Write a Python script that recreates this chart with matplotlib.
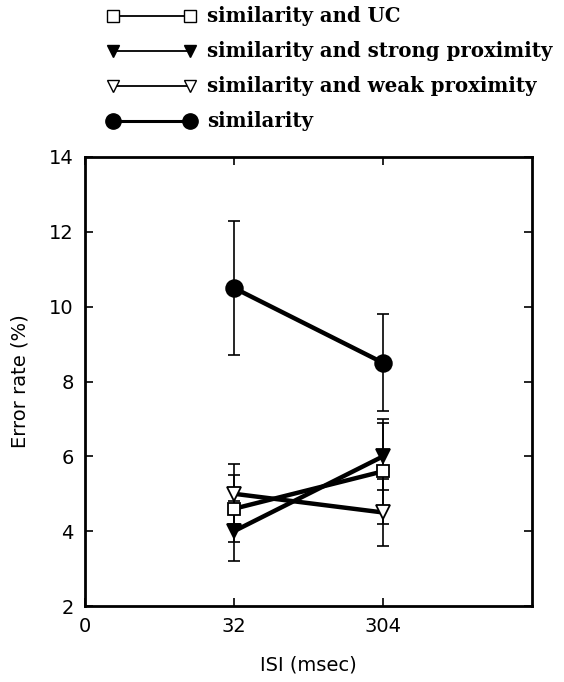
import matplotlib
matplotlib.use("Agg")
import matplotlib.pyplot as plt
from matplotlib.lines import Line2D

# ISI conditions (categorical positions on the x axis)
isi_labels = ["0", "32", "304"]
isi_pos = [1, 2]

# mean error rate (%) and half-width of error bars per condition
uc_mean = [4.6, 5.6]
uc_err = [0.9, 1.4]
strong_mean = [4.0, 6.0]
strong_err = [0.8, 0.9]
weak_mean = [5.0, 4.5]
weak_err = [0.8, 0.9]
sim_mean = [10.5, 8.5]
sim_err = [1.8, 1.3]

legend_labels = [
    "similarity and UC",
    "similarity and strong proximity",
    "similarity and weak proximity",
    "similarity",
]

plt.rcParams.update({
    "font.family": "DejaVu Sans",
    "axes.linewidth": 2.0,
    "xtick.direction": "in",
    "ytick.direction": "in",
    "xtick.top": True,
    "ytick.right": True,
    "xtick.major.size": 6,
    "ytick.major.size": 6,
    "xtick.major.width": 1.2,
    "ytick.major.width": 1.2,
})

fig = plt.figure(figsize=(5.64, 6.82), dpi=100)
ax = fig.add_axes([0.1507, 0.1114, 0.7926, 0.6584])

err_kw = dict(ecolor="black", elinewidth=1.2, capsize=4.5, capthick=1.2)

series = [
    (uc_mean, uc_err, "s", "white", 9),
    (strong_mean, strong_err, "v", "black", 10),
    (weak_mean, weak_err, "v", "white", 10),
    (sim_mean, sim_err, "o", "black", 12),
]

for mean, err, mk, fc, ms in series:
    ax.errorbar(isi_pos, mean, yerr=err, fmt="none", zorder=2, **err_kw)
    ax.plot(isi_pos, mean, color="black", lw=3.2, marker=mk, ms=ms,
            mfc=fc, mec="black", mew=1.3, zorder=3)

ax.set_xlim(0, 3)
ax.set_ylim(2, 14)
ax.set_xticks([0, 1, 2])
ax.set_xticklabels(isi_labels)
ax.set_yticks(range(2, 15, 2))
ax.tick_params(labelsize=14, pad=8)
ax.set_xlabel("ISI (msec)", fontsize=14, labelpad=14)
ax.set_ylabel("Error rate (%)", fontsize=14, labelpad=14)

handles = [
    Line2D([], [], color="black", lw=1.3, marker="s", ms=8, mfc="white", mec="black", mew=1.0),
    Line2D([], [], color="black", lw=1.3, marker="v", ms=9, mfc="black", mec="black"),
    Line2D([], [], color="black", lw=1.3, marker="v", ms=9, mfc="white", mec="black", mew=1.0),
    Line2D([], [], color="black", lw=2.2, marker="o", ms=11, mfc="black", mec="black"),
]
fig.legend(handles, legend_labels, loc="upper left", bbox_to_anchor=(0.173, 1.005),
           frameon=False, numpoints=2, handlelength=4.5, handletextpad=0.55,
           labelspacing=0.76, borderaxespad=0.1,
           prop={"family": "DejaVu Serif", "weight": "bold", "size": 14.2})

fig.savefig("out.png", dpi=100)
